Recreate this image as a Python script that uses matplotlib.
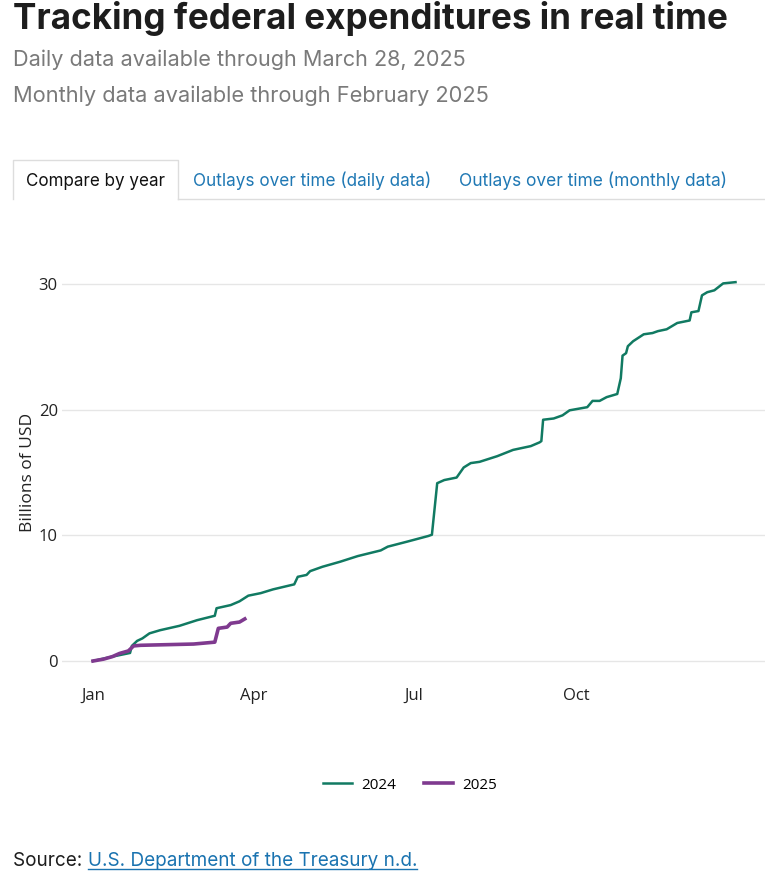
import matplotlib
matplotlib.use('Agg')
import matplotlib.pyplot as plt
from matplotlib.lines import Line2D

# day of year and cumulative outlays (billions of USD)
days2024 = [0, 11, 21, 22, 25, 28, 32, 38, 49, 59, 69, 70, 78, 83, 88, 95, 102, 108, 114, 116,
            121, 123, 130, 140, 150, 163, 167, 178, 190, 192, 195, 199, 206, 210, 214, 219, 229,
            238, 248, 253, 254, 255, 261, 266, 270, 276, 280, 283, 287, 291, 297, 299, 300, 302,
            303, 306, 312, 317, 320, 325, 331, 338, 339, 343, 345, 348, 352, 357, 364]
vals2024 = [0.0, 0.35, 0.64, 1.2, 1.6, 1.8, 2.2, 2.45, 2.8, 3.25, 3.6, 4.2, 4.45, 4.75, 5.2, 5.4,
            5.7, 5.9, 6.1, 6.7, 6.85, 7.15, 7.5, 7.9, 8.35, 8.8, 9.1, 9.5, 9.95, 10.05, 14.15, 14.4,
            14.6, 15.4, 15.75, 15.85, 16.3, 16.8, 17.1, 17.4, 17.5, 19.2, 19.3, 19.55, 19.95, 20.1,
            20.2, 20.7, 20.7, 21.0, 21.25, 22.5, 24.3, 24.5, 25.05, 25.45, 26.0, 26.1, 26.25, 26.4,
            26.9, 27.1, 27.75, 27.85, 29.1, 29.35, 29.5, 30.05, 30.15]

days2025 = [0, 6, 11, 15, 20, 23, 27, 57, 69, 71, 76, 78, 83, 86]
vals2025 = [0.0, 0.15, 0.35, 0.6, 0.8, 1.2, 1.25, 1.35, 1.5, 2.6, 2.7, 3.0, 3.1, 3.35]

month_ticks = [0, 91, 182, 274]
month_labels = ['Jan', 'Apr', 'Jul', 'Oct']
y_ticks = [0, 10, 20, 30]

green = '#117a62'
purple = '#7f3a8f'
W, H = 765, 871

def fx(px):
  return px / W

def fy(py):
  return 1 - py / H

fig = plt.figure(figsize=(W/100, H/100), dpi=100)
r = fig.canvas.get_renderer()

def fit_text(x, y, s, width, **kw):
  # place text, then scale its size so it spans about `width` pixels
  t = fig.text(fx(x), fy(y), s, va='baseline', **kw)
  w = t.get_window_extent(r).width
  t.set_fontsize(t.get_fontsize() * width / w)
  return t

# header
fit_text(13, 29, 'Tracking federal expenditures in real time', 714, fontsize=22,
         fontweight='bold', color='#1d1d1d', family='Inter')
fit_text(13, 66, 'Daily data available through March 28, 2025', 454, fontsize=16,
         color='#7a7a7a', family='Inter')
fit_text(13, 102, 'Monthly data available through February 2025', 479, fontsize=16,
         color='#7a7a7a', family='Inter')

# tabs
fig.add_artist(Line2D([fx(13), fx(13), fx(178), fx(178)], [fy(199), fy(160), fy(160), fy(199)],
                      color='#dddddd', lw=1))
fig.add_artist(Line2D([fx(178), fx(765)], [fy(199), fy(199)], color='#dddddd', lw=1))
fit_text(26, 186, 'Compare by year', 139, fontsize=12, color='#111111', family='Inter')
fit_text(193, 186, 'Outlays over time (daily data)', 238, fontsize=12, color='#1f78b4', family='Inter')
fit_text(459, 186, 'Outlays over time (monthly data)', 268, fontsize=12, color='#1f78b4', family='Inter')

# chart
ax = fig.add_axes([fx(62), fy(680), fx(765) - fx(62), fy(230) - fy(680)])
ax.plot(days2024, vals2024, color=green, lw=1.8, label='2024', solid_joinstyle='round')
ax.plot(days2025, vals2025, color=purple, lw=2.6, label='2025', solid_joinstyle='round')
ax.set_xlim(-17.56, 380.7)
ax.set_ylim(-1.512, 34.3)
ax.set_yticks(y_ticks)
ax.set_xticks(month_ticks)
ax.set_xticklabels(month_labels)
ax.grid(axis='y', color='#e6e6e6', lw=1)
ax.set_axisbelow(True)
for s in ax.spines.values():
  s.set_visible(False)
ax.tick_params(length=0, labelsize=12, colors='#222222')
ax.tick_params(axis='y', pad=3)
ax.tick_params(axis='x', pad=6)
for lab in ax.get_xticklabels() + ax.get_yticklabels():
  lab.set_family('Open Sans')
ax.set_ylabel('Billions of USD', fontsize=12.5, family='Open Sans', color='#222222')
ax.yaxis.set_label_coords(-0.037, 0.461)

fig.legend(loc='center', bbox_to_anchor=(fx(410), fy(785)), ncol=2, frameon=False,
           prop={'family': 'Open Sans', 'size': 11}, handlelength=1.9, columnspacing=1.8,
           handletextpad=0.6)

# source line with underlined link
t1 = fit_text(13, 866, 'Source: ', 74, fontsize=13, color='#1d1d1d', family='Inter')
bb = t1.get_window_extent(r)
t2 = fig.text(bb.x1 / W, fy(866), 'U.S. Department of the Treasury n.d.', fontsize=t1.get_fontsize(),
              color='#1a73b0', family='Inter', va='baseline')
bb2 = t2.get_window_extent(r)
fig.add_artist(Line2D([bb2.x0 / W, bb2.x1 / W], [fy(869), fy(869)], color='#1a73b0', lw=1))

fig.savefig('out.png', dpi=100)
plt.close('all')
